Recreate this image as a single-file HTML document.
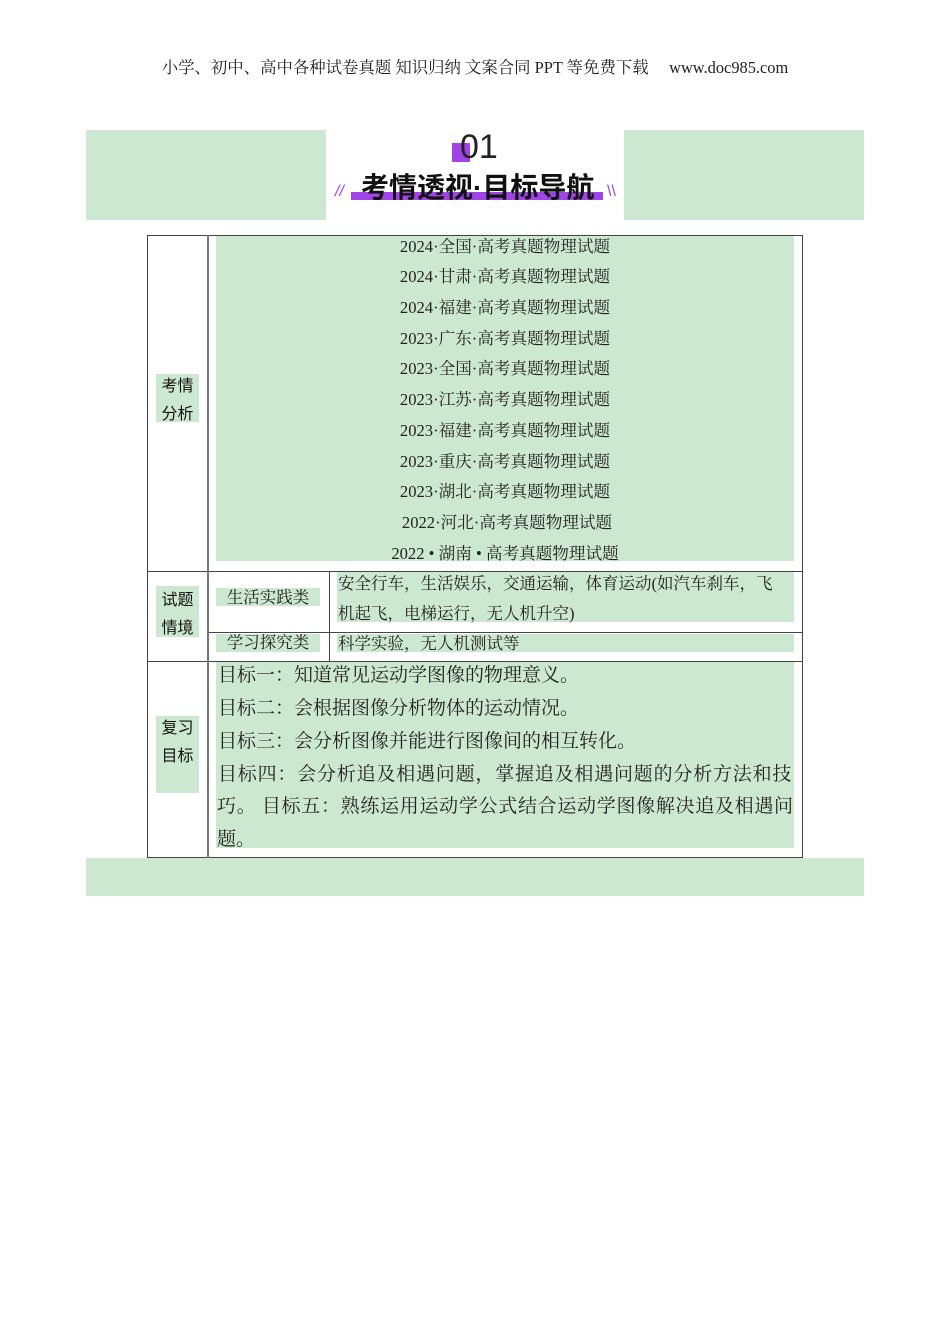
<!DOCTYPE html>
<html><head><meta charset="utf-8"><style>
body{margin:0;width:950px;height:1344px;background:#fff;position:relative;overflow:hidden;font-family:"Liberation Serif","Noto Serif CJK SC",serif;color:#222}
.a{position:absolute}
.g{position:absolute;background:#cde8d0}
.l{position:absolute;background:#444}
.c{position:absolute;left:216px;width:578px;text-align:center;font-size:16.6px;line-height:20px;white-space:nowrap}
.lab{position:absolute;font-family:"Liberation Sans","Noto Sans CJK SC",sans-serif;font-size:16px;left:156px;width:43px;text-align:center;color:#111}
.t{position:absolute;left:218px;width:590px;font-size:19px;line-height:24px;white-space:nowrap}
</style></head><body>
<div class="a" style="left:0;width:950px;top:58px;text-align:center;font-size:16.4px;line-height:20px;white-space:nowrap">小学、初中、高中各种试卷真题 知识归纳 文案合同 PPT 等免费下载&nbsp;&nbsp;&nbsp;&nbsp;&nbsp;www.doc985.com</div>

<div class="g" style="left:86px;top:130px;width:240px;height:90px"></div>
<div class="g" style="left:624px;top:130px;width:240px;height:90px"></div>
<div class="a" style="left:452px;top:143px;width:18px;height:19px;background:#a044e8"></div>
<div class="a" style="left:460px;top:128px;font-family:'Liberation Sans',sans-serif;font-size:34px;line-height:38px;color:#222">01</div>
<div class="a" style="left:351px;top:192px;width:252px;height:8px;background:#a044e8"></div>
<div class="a" style="left:335px;top:183px;color:#a044e8;font-size:16px;font-family:'Liberation Sans',sans-serif;font-style:italic">//</div>
<div class="a" style="left:607px;top:183px;color:#a044e8;font-size:16px;font-family:'Liberation Sans',sans-serif;">\\</div>
<div class="a" style="left:361px;top:172px;font-family:'Liberation Sans','Noto Sans CJK SC',sans-serif;font-weight:bold;font-size:28px;line-height:32px;color:#111;white-space:nowrap">考情透视·目标导航</div>

<div class="g" style="left:216px;top:236px;width:578px;height:325px"></div>
<div class="g" style="left:156px;top:374px;width:43px;height:48px"></div>
<div class="g" style="left:216px;top:588px;width:104px;height:18px"></div>
<div class="g" style="left:337px;top:572px;width:457px;height:50px"></div>
<div class="g" style="left:216px;top:634px;width:104px;height:18px"></div>
<div class="g" style="left:337px;top:634px;width:457px;height:18px"></div>
<div class="g" style="left:156px;top:586px;width:43px;height:51px"></div>
<div class="g" style="left:216px;top:662px;width:578px;height:186px"></div>
<div class="g" style="left:156px;top:716px;width:43px;height:77px"></div>

<div class="l" style="left:147px;top:235px;width:656px;height:1px"></div>
<div class="l" style="left:147px;top:571px;width:656px;height:1px"></div>
<div class="l" style="left:147px;top:661px;width:656px;height:1px"></div>
<div class="l" style="left:147px;top:857px;width:656px;height:1px"></div>
<div class="l" style="left:208px;top:632px;width:595px;height:1px"></div>
<div class="l" style="left:147px;top:235px;width:1px;height:623px"></div>
<div class="l" style="left:802px;top:235px;width:1px;height:623px"></div>
<div class="l" style="left:207px;top:235px;width:2px;height:623px;background:#777"></div>
<div class="l" style="left:329px;top:571px;width:1px;height:90px"></div>

<div class="g" style="left:86px;top:858px;width:778px;height:38px"></div>

<div class="c" style="top:237px">2024·全国·高考真题物理试题</div>
<div class="c" style="top:267px">2024·甘肃·高考真题物理试题</div>
<div class="c" style="top:298px">2024·福建·高考真题物理试题</div>
<div class="c" style="top:329px">2023·广东·高考真题物理试题</div>
<div class="c" style="top:359px">2023·全国·高考真题物理试题</div>
<div class="c" style="top:390px">2023·江苏·高考真题物理试题</div>
<div class="c" style="top:421px">2023·福建·高考真题物理试题</div>
<div class="c" style="top:452px">2023·重庆·高考真题物理试题</div>
<div class="c" style="top:482px">2023·湖北·高考真题物理试题</div>
<div class="c" style="top:513px;left:218px">2022·河北·高考真题物理试题</div>
<div class="c" style="top:544px">2022 • 湖南 • 高考真题物理试题</div>

<div class="lab" style="top:373px;line-height:28px">考情<br>分析</div>
<div class="lab" style="top:587px;line-height:28px">试题<br>情境</div>
<div class="lab" style="top:715px;line-height:28px">复习<br>目标</div>

<div class="a" style="left:216px;width:104px;top:588px;text-align:center;font-size:16.5px;line-height:20px;white-space:nowrap">生活实践类</div>
<div class="a" style="left:216px;width:104px;top:633px;text-align:center;font-size:16.5px;line-height:20px;white-space:nowrap">学习探究类</div>
<div class="a" style="left:338px;top:569px;font-size:16.5px;line-height:30px;white-space:nowrap">安全行车，生活娱乐，交通运输，体育运动(如汽车刹车，飞<br>机起飞，电梯运行，无人机升空)</div>
<div class="a" style="left:338px;top:634px;font-size:16.5px;line-height:20px;white-space:nowrap">科学实验，无人机测试等</div>

<div class="t" style="top:664px">目标一：知道常见运动学图像的物理意义。</div>
<div class="t" style="top:697px">目标二：会根据图像分析物体的运动情况。</div>
<div class="t" style="top:730px">目标三：会分析图像并能进行图像间的相互转化。</div>
<div class="t" style="top:763px;letter-spacing:0.8px">目标四：会分析追及相遇问题，掌握追及相遇问题的分析方法和技</div>
<div class="t" style="top:795px;left:217px;letter-spacing:0.7px">巧。 目标五：熟练运用运动学公式结合运动学图像解决追及相遇问</div>
<div class="t" style="top:828px;left:217px">题。</div>
</body></html>
